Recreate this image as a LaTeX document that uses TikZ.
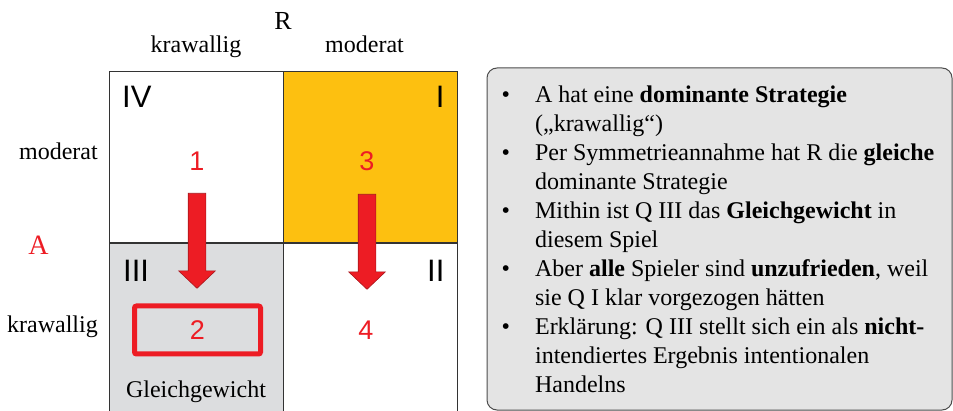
\documentclass[tikz,border=0pt]{standalone}
\usepackage{fontspec}
\setmainfont{Liberation Serif}
\newfontfamily\arialfont{Liberation Sans}
\usepackage{tikz}
\usetikzlibrary{positioning, calc, shapes.arrows}
\definecolor{colorred}{HTML}{ED1C24}
\definecolor{colordred}{HTML}{A8161C}
\definecolor{colorgold}{HTML}{FDC010}
\definecolor{colorcell}{HTML}{DCDDDF}
\definecolor{colorbox}{HTML}{E4E4E4}
\tikzstyle{cell}=[draw=black!80, line width=.8pt, minimum width=173.5pt, minimum height=171pt, anchor=north west, inner sep=0]
\tikzstyle{quad}=[font=\arialfont\fontsize{31}{31}\selectfont, inner sep=0]
\tikzstyle{payoff}=[font=\arialfont\fontsize{27}{27}\selectfont, text=colorred, inner sep=0]
\tikzstyle{lbl}=[font=\fontsize{24}{24}\selectfont, inner sep=0]
\tikzstyle{push}=[single arrow, rotate=-90, anchor=tail, draw=colordred, fill=colorred, line width=.6pt, minimum height=95pt, single arrow head extend=9.5pt, single arrow tip angle=93, inner xsep=0, inner ysep=8.5pt]

\begin{document}
\begin{tikzpicture}[x=1pt, y=-1pt]
\useasboundingbox (0,0) rectangle (953,411);

% matrix
\node[cell](qIV) at (109,71){};
\node[cell, fill=colorgold](qI) at (qIV.north east){};
\node[cell, fill=colorcell, minimum height=175pt](qIII) at (qIV.south west){};
\node[cell, minimum height=175pt](qII) at (qIII.north east){};

\node[quad, below right=15pt and 13pt of qIV.north west](nIV){IV};
\node[quad, below left=15pt and 13pt of qI.north east](nI){I};
\node[quad, below right=17pt and 14pt of qIII.north west](nIII){III};
\node[quad, below left=17pt and 13pt of qII.north east](nII){II};

\node[payoff](p1) at (197,161){1};
\node[payoff](p3) at (367,161){3};
\node[payoff](p2) at (197.5,330){2};
\node[payoff](p4) at (366,330){4};

\node[push](arrL) at (197,193){};
\node[push](arrR) at (367,194){};

\node[draw=colorred, line width=5pt, rounded corners=2pt, minimum width=126pt, minimum height=48pt](eq) at (p2){};
\node[lbl, anchor=base](gg) at (196,397){Gleichgewicht};

% players and strategies
\node[lbl, font=\fontsize{26}{26}\selectfont, anchor=base](R) at (283,30){R};
\node[lbl, anchor=base](rk) at (196,53){krawallig};
\node[lbl, anchor=base](rm) at (364.5,53){moderat};
\node[lbl, anchor=base east](am) at (98,160){moderat};
\node[lbl, anchor=base east](ak) at (98,333){krawallig};
\node[lbl, font=\fontsize{28}{28}\selectfont, text=colorred, anchor=base](A) at (38.5,255){A};

% notes
\node[draw=black!70, fill=colorbox, line width=1pt, rounded corners=10pt, minimum width=465pt, minimum height=342pt, anchor=north west](info) at (486.5,67.5){};
\node[inner sep=0, font=\fontsize{24}{29}\selectfont, below right=14.7pt and 15pt of info.north west](notes){%
\begin{tabular}{@{}l@{\hspace{25pt}}l@{}}
\textbullet & A hat eine \textbf{dominante Strategie}\\
 & („krawallig“)\\
\textbullet & Per Symmetrieannahme hat R die \textbf{gleiche}\\
 & dominante Strategie\\
\textbullet & Mithin ist Q III das \textbf{Gleichgewicht} in\\
 & diesem Spiel\\
\textbullet & Aber \textbf{alle} Spieler sind \textbf{unzufrieden}, weil\\
 & sie Q I klar vorgezogen hätten\\
\textbullet & Erklärung: Q III stellt sich ein als \textbf{nicht-}\\
 & intendiertes Ergebnis intentionalen\\
 & Handelns
\end{tabular}};
\end{tikzpicture}
\end{document}
